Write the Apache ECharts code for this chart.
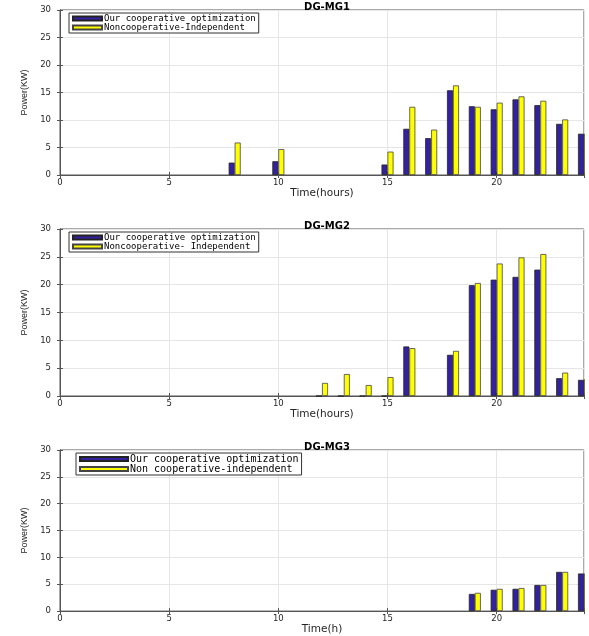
<!DOCTYPE html>
<html>
<head>
<meta charset="utf-8">
<script src="https://cdn.jsdelivr.net/npm/echarts@6/dist/echarts.min.js"></script>
<style>html,body{margin:0;padding:0;background:#fff}#c{width:589px;height:636px}</style>
</head>
<body>
<div id="c"></div>
<script>
// ---- data ----
const titles = ['DG-MG1', 'DG-MG2', 'DG-MG3'];
const xNames = ['Time(hours)', 'Time(hours)', 'Time(h)'];
const yName = 'Power(KW)';
const coopNames = ['Our cooperative optimization', 'Our cooperative optimization', 'Our cooperative optimization'];
const noncNames = ['Noncooperative-Independent', 'Noncooperative- Independent', 'Non cooperative-independent'];

const hours1 = [8, 10, 15, 16, 17, 18, 19, 20, 21, 22, 23, 24];
const coop1  = [2.25, 2.5, 1.9, 8.4, 6.7, 15.4, 12.5, 11.95, 13.75, 12.7, 9.3, 7.5];
const nonc1  = [5.9, 4.7, 4.25, 12.4, 8.25, 16.3, 12.4, 13.15, 14.3, 13.5, 10.1, 7.5];

const hours2 = [12, 13, 14, 15, 16, 18, 19, 20, 21, 22, 23, 24];
const coop2  = [0, 0, 0, 0, 8.9, 7.4, 19.9, 20.9, 21.4, 22.7, 3.2, 2.9];
const nonc2  = [2.35, 3.95, 1.97, 3.4, 8.6, 8.1, 20.3, 23.8, 24.9, 25.5, 4.2, 3.0];

const hours3 = [19, 20, 21, 22, 23, 24];
const coop3  = [3.2, 3.97, 4.15, 4.87, 7.3, 7.0];
const nonc3  = [3.4, 4.15, 4.3, 4.87, 7.3, 7.0];

const xTicks = [0, 5, 10, 15, 20];
const yTicks = [0, 5, 10, 15, 20, 25, 30];

// ---- layout ----
const grids = [
  {left: 60, top: 10, width: 524, height: 165},
  {left: 60, top: 229, width: 524, height: 167},
  {left: 60, top: 450, width: 524, height: 168}
];
const legendCfg = [
  {left: 69, top: 13, iconW: 29, font: 9},
  {left: 69, top: 232, iconW: 29, font: 9},
  {left: 76, top: 453, iconW: 48, font: 10}
];
const hoursAll = [hours1, hours2, hours3];
const coopAll = [coop1, coop2, coop3];
const noncAll = [nonc1, nonc2, nonc3];

const BLUE = '#3322a0', YEL = '#ffff00';
const font = 'DejaVu Sans';
const txt = '#262626';

const option = {
  animation: false,
  backgroundColor: '#fff',
  title: [], legend: [], grid: [], xAxis: [], yAxis: [], series: [], graphic: []
};

grids.forEach((g, i) => {
  option.grid.push(Object.assign({show: true, borderColor: '#555', borderWidth: 1, backgroundColor: '#fff'}, g));
  option.title.push({
    text: titles[i], left: g.left + g.width / 2, top: g.top - 13, textAlign: 'center',
    textStyle: {fontFamily: font, fontSize: 10, fontWeight: 'bold', color: '#000'}
  });
  const lc = legendCfg[i];
  option.legend.push({
    left: lc.left, top: lc.top, orient: 'vertical',
    itemWidth: lc.iconW, itemHeight: 4, itemGap: 0, padding: [1, 3, 1, 3],
    backgroundColor: '#fff', borderColor: '#333', borderWidth: 1, borderRadius: 0,
    icon: 'rect',
    data: [coopNames[i], noncNames[i]],
    textStyle: {fontFamily: 'DejaVu Sans Mono', fontSize: lc.font, lineHeight: 7, color: '#000', padding: [0, 0, 0, -3]},
    selectedMode: false
  });
  const common = {
    gridIndex: i, type: 'value', min: 0, max: 24, interval: 5,
    splitLine: {show: true, lineStyle: {color: '#e6e6e6', width: 1}},
    axisLine: {show: true, lineStyle: {color: '#555'}},
    axisTick: {show: true, inside: true, length: 3, lineStyle: {color: '#555'}},
  };
  option.xAxis.push(Object.assign({}, common, {
    position: 'bottom',
    name: xNames[i], nameLocation: 'middle', nameGap: 12,
    nameTextStyle: {fontFamily: font, fontSize: 10.5, color: txt},
    axisLabel: {fontFamily: font, fontSize: 8.5, color: txt, margin: 3,
      formatter: v => xTicks.indexOf(v) >= 0 ? String(v) : ''}
  }));
  option.xAxis.push(Object.assign({}, common, {
    position: 'top', splitLine: {show: false}, axisLabel: {show: false}
  }));
  const ycommon = {
    gridIndex: i, type: 'value', min: 0, max: 30, interval: 5,
    splitLine: {show: true, lineStyle: {color: '#e6e6e6', width: 1}},
    axisLine: {show: true, lineStyle: {color: '#555'}},
    axisTick: {show: true, inside: true, length: 3, lineStyle: {color: '#555'}},
  };
  option.yAxis.push(Object.assign({}, ycommon, {
    position: 'left',
    name: yName, nameLocation: 'middle', nameGap: 30, nameRotate: 90,
    nameTextStyle: {fontFamily: 'Liberation Sans Narrow, Liberation Sans', fontSize: 9, color: txt},
    axisLabel: {fontFamily: font, fontSize: 8.5, color: txt, margin: 9,
      formatter: v => yTicks.indexOf(v) >= 0 ? String(v) : ''}
  }));
  option.yAxis.push(Object.assign({}, ycommon, {
    position: 'right', splitLine: {show: false}, axisLabel: {show: false}
  }));
  const hrs = hoursAll[i];
  option.series.push({
    type: 'bar', name: coopNames[i], xAxisIndex: 2 * i, yAxisIndex: 2 * i,
    barWidth: 6, barGap: '0%',
    itemStyle: {color: BLUE, borderColor: '#222', borderWidth: 0.8},
    data: hrs.map((h, k) => [h, coopAll[i][k]])
  });
  option.series.push({
    type: 'bar', name: noncNames[i], xAxisIndex: 2 * i, yAxisIndex: 2 * i,
    barWidth: 6, barGap: '0%',
    itemStyle: {color: YEL, borderColor: '#444', borderWidth: 0.8},
    data: hrs.map((h, k) => [h, noncAll[i][k]])
  });
  // white mask beyond the right plot edge (value-axis bars are not clipped exactly at the edge)
  option.graphic.push({
    type: 'rect', z: 100, silent: true,
    shape: {x: g.left + g.width + 1, y: g.top - 2, width: 20, height: g.height + 4},
    style: {fill: '#fff'}
  });
});

const chart = echarts.init(document.getElementById('c'), null, {renderer: 'canvas'});
chart.setOption(option);
</script>
</body>
</html>
